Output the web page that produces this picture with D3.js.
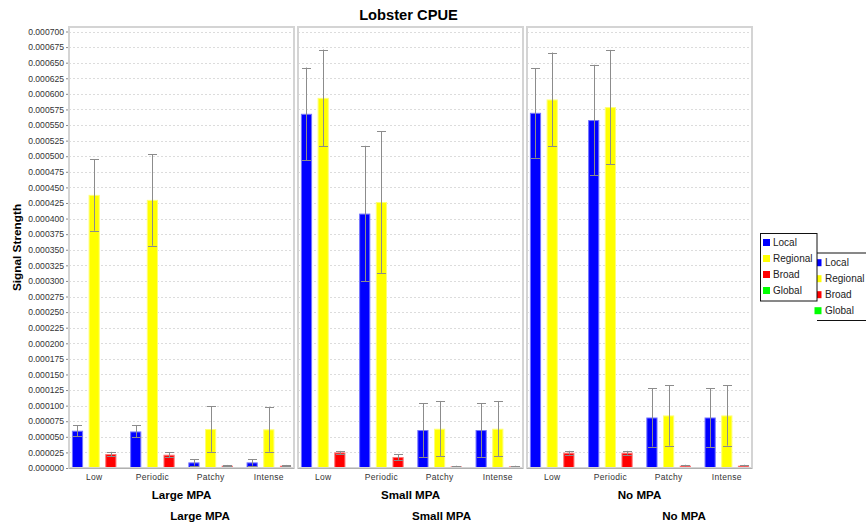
<!DOCTYPE html>
<html>
<head>
<meta charset="utf-8">
<script src="https://cdn.jsdelivr.net/npm/d3@7/dist/d3.min.js"></script>
<style>
  html, body { margin: 0; padding: 0; background: #fff; }
  svg { display: block; font-family: "Liberation Sans", Arial, sans-serif; }
</style>
</head>
<body>
<svg id="chart" width="866" height="526"></svg>
<script>
// Lobster CPUE: signal strength by fishing pattern, grouped by MPA scenario
const panels = ["Large MPA", "Small MPA", "No MPA"];
const categories = ["Low", "Periodic", "Patchy", "Intense"];
const seriesNames = ["Local", "Regional", "Broad", "Global"];
const seriesColors = ["#0000ff", "#ffff00", "#ff0000", "#00ff00"];
const yTicks = d3.range(0, 0.0007 + 1e-9, 0.000025);

// Means (Large MPA, Small MPA, No MPA), each in category order
const localMean = [
  [0.0000598, 0.0000586, 0.0000090, 0.0000090],
  [0.000568, 0.000408, 0.0000609, 0.0000609],
  [0.0005696, 0.000558, 0.000081, 0.000081]
];
const regionalMean = [
  [0.000438, 0.000430, 0.0000625, 0.0000620],
  [0.0005936, 0.0004266, 0.000063, 0.000063],
  [0.000591, 0.0005787, 0.0000843, 0.0000843]
];
const broadMean = [
  [0.0000224, 0.0000213, 0.0000037, 0.0000037],
  [0.000025, 0.0000176, 0.0000026, 0.0000026],
  [0.0000245, 0.0000245, 0.0000037, 0.0000037]
];
// Standard deviations drawn as error bars
const localErr = [
  [0.0000085, 0.0000096, 0.0000053, 0.0000053],
  [0.0000742, 0.0001087, 0.000043, 0.000043],
  [0.0000718, 0.0000886, 0.0000467, 0.0000472]
];
const regionalErr = [
  [0.0000575, 0.0000735, 0.0000366, 0.0000358],
  [0.0000774, 0.0001137, 0.0000445, 0.0000445],
  [0.0000753, 0.0000918, 0.0000485, 0.0000485]
];
const broadErr = [
  [0.0000035, 0.000004, 0.0000012, 0.0000012],
  [0.0000024, 0.0000045, 0.000001, 0.000001],
  [0.000003, 0.000003, 0.0000015, 0.0000015]
];

const barSeries = [
  { name: "Local", mean: localMean, err: localErr },
  { name: "Regional", mean: regionalMean, err: regionalErr },
  { name: "Broad", mean: broadMean, err: broadErr }
];

const svg = d3.select("#chart");
const color = d3.scaleOrdinal(seriesNames, seriesColors);

// Layout
const plotTop = 27, plotBottom = 468;
const panelRanges = [[69, 294], [298, 523], [527, 752]];
const secondLabelX = [200, 441.5, 684];

const y = d3.scaleLinear().domain([0, 0.0007]).range([plotBottom, 31.5]);

// Title
svg.append("text")
  .attr("x", 408.5).attr("y", 20)
  .attr("text-anchor", "middle")
  .attr("font-size", "14.7px").attr("font-weight", "bold")
  .text("Lobster CPUE");

// Y axis label
svg.append("text")
  .attr("transform", `translate(21,${(plotTop + plotBottom) / 2}) rotate(-90)`)
  .attr("text-anchor", "middle")
  .attr("font-size", "11.8px").attr("font-weight", "bold")
  .text("Signal Strength");

// Y axis
const yAxis = svg.append("g")
  .attr("transform", `translate(${panelRanges[0][0] - 1},0)`)
  .call(d3.axisLeft(y).tickValues(yTicks).tickFormat(d3.format(".6f")).tickSize(2).tickPadding(2));
yAxis.select(".domain").remove();
yAxis.selectAll(".tick line").attr("stroke", "#888");
yAxis.selectAll(".tick text")
  .attr("font-size", "8.6px").attr("fill", "#333")
  .attr("font-family", "'Liberation Sans', Arial, sans-serif");

const inner = d3.scaleBand().domain(barSeries.map(s => s.name)).paddingInner(0.33).paddingOuter(0);

panels.forEach((panelName, p) => {
  const [x0, x1] = panelRanges[p];
  const x = d3.scaleBand().domain(categories).range([x0, x1]).paddingInner(0.235).paddingOuter(0.05);
  inner.range([0, x.bandwidth()]);

  const g = svg.append("g");

  // Background and horizontal dashed grid
  g.append("rect")
    .attr("x", x0).attr("y", plotTop)
    .attr("width", x1 - x0).attr("height", plotBottom - plotTop)
    .attr("fill", "#fff");
  g.selectAll("line.grid").data(yTicks.slice(1)).join("line")
    .attr("class", "grid")
    .attr("x1", x0).attr("x2", x1)
    .attr("y1", d => Math.round(y(d)) + 0.5).attr("y2", d => Math.round(y(d)) + 0.5)
    .attr("stroke", "#dcdcdc").attr("stroke-width", 1)
    .attr("stroke-dasharray", "2,2");

  // Bars
  const rows = [];
  categories.forEach((c, ci) => {
    barSeries.forEach(s => {
      rows.push({ cat: c, series: s.name, v: s.mean[p][ci], e: s.err[p][ci] });
    });
  });

  g.selectAll("rect.bar").data(rows).join("rect")
    .attr("class", "bar")
    .attr("x", d => x(d.cat) + inner(d.series) + 0.5)
    .attr("y", d => y(d.v) + 0.5)
    .attr("width", inner.bandwidth() - 1)
    .attr("height", d => Math.max(0, y(0) - y(d.v) - 1))
    .attr("fill", d => color(d.series))
    .attr("stroke", d => d3.interpolateRgb(color(d.series), "#ffffff")(0.45))
    .attr("stroke-width", 1);

  // Error bars
  const cap = 4.5;
  const eb = g.selectAll("g.err").data(rows).join("g").attr("class", "err")
    .attr("stroke", "#8c8c8c").attr("stroke-width", 1);
  const cx = d => Math.round(x(d.cat) + inner(d.series) + inner.bandwidth() / 2) + 0.5;
  eb.append("line")
    .attr("x1", cx).attr("x2", cx)
    .attr("y1", d => y(d.v + d.e)).attr("y2", d => y(d.v - d.e));
  eb.append("line")
    .attr("x1", d => cx(d) - cap).attr("x2", d => cx(d) + cap)
    .attr("y1", d => Math.round(y(d.v + d.e)) + 0.5).attr("y2", d => Math.round(y(d.v + d.e)) + 0.5);
  eb.append("line")
    .attr("x1", d => cx(d) - cap).attr("x2", d => cx(d) + cap)
    .attr("y1", d => Math.round(y(d.v - d.e)) + 0.5).attr("y2", d => Math.round(y(d.v - d.e)) + 0.5);

  // Panel frame
  g.append("rect")
    .attr("x", x0).attr("y", plotTop)
    .attr("width", x1 - x0).attr("height", plotBottom - plotTop)
    .attr("fill", "none").attr("stroke", "#d4d4d4").attr("stroke-width", 2);
  g.append("line")
    .attr("x1", x0).attr("x2", x1)
    .attr("y1", plotBottom + 0.5).attr("y2", plotBottom + 0.5)
    .attr("stroke", "#b0b0b0");

  // Category axis
  const xAxis = g.append("g")
    .attr("transform", `translate(0,${plotBottom})`)
    .call(d3.axisBottom(x).tickSize(0).tickPadding(6));
  xAxis.select(".domain").remove();
  xAxis.selectAll(".tick text")
    .attr("font-size", "8.5px").attr("fill", "#333")
    .attr("font-family", "'Liberation Sans', Arial, sans-serif")
    .attr("letter-spacing", "0.3px");

  // Panel labels
  g.append("text")
    .attr("x", (x0 + x1) / 2).attr("y", 499)
    .attr("text-anchor", "middle")
    .attr("font-size", "11.6px").attr("font-weight", "bold")
    .text(panelName);
  g.append("text")
    .attr("x", secondLabelX[p]).attr("y", 519.5)
    .attr("text-anchor", "middle")
    .attr("font-size", "11.6px").attr("font-weight", "bold")
    .text(panelName);
});

// Legends (second one sits partly behind the first)
function drawLegend(left, top, right, bottom, firstRowY, swatchX, textX, boxed) {
  const lg = svg.append("g");
  if (boxed) {
    lg.append("rect")
      .attr("x", left + 0.5).attr("y", top + 0.5)
      .attr("width", right - left).attr("height", bottom - top)
      .attr("fill", "#fff").attr("stroke", "#111").attr("stroke-width", 1);
  } else {
    lg.append("rect")
      .attr("x", left).attr("y", top)
      .attr("width", right - left).attr("height", bottom - top)
      .attr("fill", "#fff");
    lg.append("line").attr("x1", left).attr("x2", right)
      .attr("y1", top + 0.5).attr("y2", top + 0.5).attr("stroke", "#111");
    lg.append("line").attr("x1", left).attr("x2", right)
      .attr("y1", bottom + 0.5).attr("y2", bottom + 0.5).attr("stroke", "#111");
  }
  seriesNames.forEach((s, i) => {
    const cy = firstRowY + i * 16;
    lg.append("rect")
      .attr("x", swatchX).attr("y", cy - 3.5)
      .attr("width", 7).attr("height", 7)
      .attr("fill", color(s));
    lg.append("text")
      .attr("x", textX).attr("y", cy + 3.6)
      .attr("font-size", "10px").attr("fill", "#222")
      .text(s);
  });
}
drawLegend(817, 252.5, 870, 320, 262.7, 814.5, 825, false);
drawLegend(760, 233, 816.5, 300.5, 242.5, 763, 773, true);
</script>
</body>
</html>
